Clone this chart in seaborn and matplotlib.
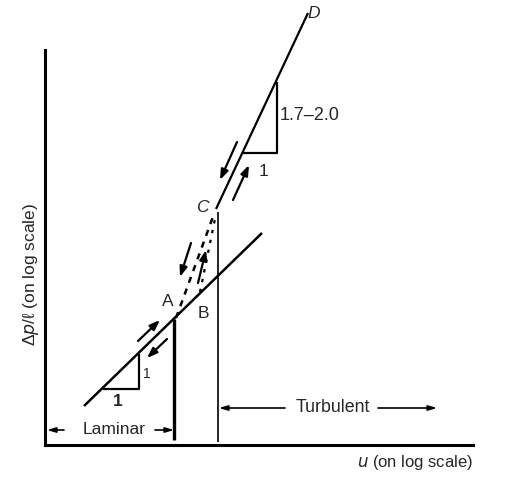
import matplotlib
matplotlib.use("Agg")
import matplotlib.pyplot as plt
import seaborn as sns

# ---- data (log-scale units, arbitrary) ----
laminar_x = [3.9, 21.7]
laminar_y = [3.9, 21.2]
turbulent_x = [17.1, 26.3]
turbulent_y = [23.6, 43.2]
transition1_x = [13.1, 16.9]
transition1_y = [12.7, 23.1]
transition2_x = [15.5, 17.1]
transition2_y = [15.3, 23.1]
lam_tri_x = [5.8, 9.4, 9.4]
lam_tri_y = [5.6, 5.6, 9.1]
turb_tri_x = [19.8, 23.2, 23.2]
turb_tri_y = [29.2, 29.2, 36.3]
vline_A_x = [12.9, 12.9]
vline_A_y = [0.5, 12.6]
vline_C_x = [17.3, 17.3]
vline_C_y = [0.3, 23.3]

# arrows: (x_from, y_from, x_to, y_to)
flow_arrows = [
    (9.3, 10.4, 11.5, 12.5),
    (12.2, 10.6, 10.2, 8.7),
    (14.6, 20.2, 13.5, 16.8),
    (15.3, 16.2, 16.1, 19.5),
    (19.2, 30.3, 17.5, 26.5),
    (18.8, 24.5, 20.4, 28.0),
]

point_labels = ["A", "B", "C", "D"]
point_x = [12.3, 15.8, 15.7, 26.9]
point_y = [14.3, 13.2, 23.7, 43.2]

sns.set_style("white")
plt.rcParams['font.family'] = ['Liberation Sans', 'DejaVu Sans']

fig = plt.figure(figsize=(5.2, 4.88), dpi=100)
ax = fig.add_axes([45/520, 43/488, 428/520, 395/488])
ax.set_xlim(0, 42.8)
ax.set_ylim(0, 39.5)


def seg(x, y, lw=1.6, ls="-"):
    sns.lineplot(x=x, y=y, ax=ax, estimator=None, sort=False, color="black",
                 linewidth=lw, linestyle=ls)
    ax.lines[-1].set_clip_on(False)
    ax.lines[-1].set_solid_capstyle("butt")


seg(laminar_x, laminar_y, lw=1.8)
seg(turbulent_x, turbulent_y, lw=1.6)
seg(transition1_x, transition1_y, lw=1.8, ls=(0, (2.5, 2.5)))
seg(transition2_x, transition2_y, lw=1.6, ls=(0, (1.5, 3)))
seg(lam_tri_x, lam_tri_y, lw=1.6)
seg(turb_tri_x, turb_tri_y, lw=1.6)
seg(vline_A_x, vline_A_y, lw=2.4)
seg(vline_C_x, vline_C_y, lw=1.2)

for x0, y0, x1, y1 in flow_arrows:
    ax.annotate("", xy=(x1, y1), xytext=(x0, y0),
                arrowprops=dict(arrowstyle="-|>,head_length=0.6,head_width=0.22",
                                color="black", lw=1.6, shrinkA=0, shrinkB=0),
                annotation_clip=False)

for lab, x, y in zip(point_labels, point_x, point_y):
    style = "italic" if lab in ("C", "D") else "normal"
    ax.text(x, y, lab, fontsize=12.5, style=style, ha="center", va="center", clip_on=False)

ax.text(7.3, 4.4, "1", fontsize=12.5, ha="center", va="center", fontweight="bold")
ax.text(10.2, 7.1, "1", fontsize=10, ha="center", va="center")
ax.text(23.5, 33.0, "1.7\u20132.0", fontsize=13, ha="left", va="center")
ax.text(21.8, 27.3, "1", fontsize=12.5, ha="center", va="center")

# regime indicators
ax.annotate("", xy=(0.2, 1.5), xytext=(1.9, 1.5),
            arrowprops=dict(arrowstyle="-|>,head_length=0.5,head_width=0.15",
                            color="black", lw=1.2, shrinkA=0, shrinkB=0))
ax.text(6.9, 1.5, "Laminar", fontsize=12.5, ha="center", va="center")
ax.annotate("", xy=(12.9, 1.5), xytext=(11.0, 1.5),
            arrowprops=dict(arrowstyle="-|>,head_length=0.5,head_width=0.15",
                            color="black", lw=1.2, shrinkA=0, shrinkB=0))

ax.annotate("", xy=(17.4, 3.7), xytext=(24.0, 3.7),
            arrowprops=dict(arrowstyle="-|>,head_length=0.5,head_width=0.15",
                            color="black", lw=1.2, shrinkA=0, shrinkB=0))
ax.text(28.8, 3.7, "Turbulent", fontsize=12.8, ha="center", va="center")
ax.annotate("", xy=(39.2, 3.7), xytext=(33.3, 3.7),
            arrowprops=dict(arrowstyle="-|>,head_length=0.5,head_width=0.15",
                            color="black", lw=1.2, shrinkA=0, shrinkB=0))

# axis labels
ax.text(42.8, -1.8, "$u$ (on log scale)", fontsize=12, ha="right", va="center", clip_on=False)
ax.text(-1.4, 17.1, "\u0394$p$/\u2113 (on log scale)", fontsize=12.5, rotation=90,
        ha="center", va="center", clip_on=False)

ax.set_xticks([])
ax.set_yticks([])
ax.set_xlabel("")
ax.set_ylabel("")
for s in ("top", "right"):
    ax.spines[s].set_visible(False)
for s in ("left", "bottom"):
    ax.spines[s].set_color("black")
    ax.spines[s].set_linewidth(2.2)

fig.savefig("out.png", dpi=100)
